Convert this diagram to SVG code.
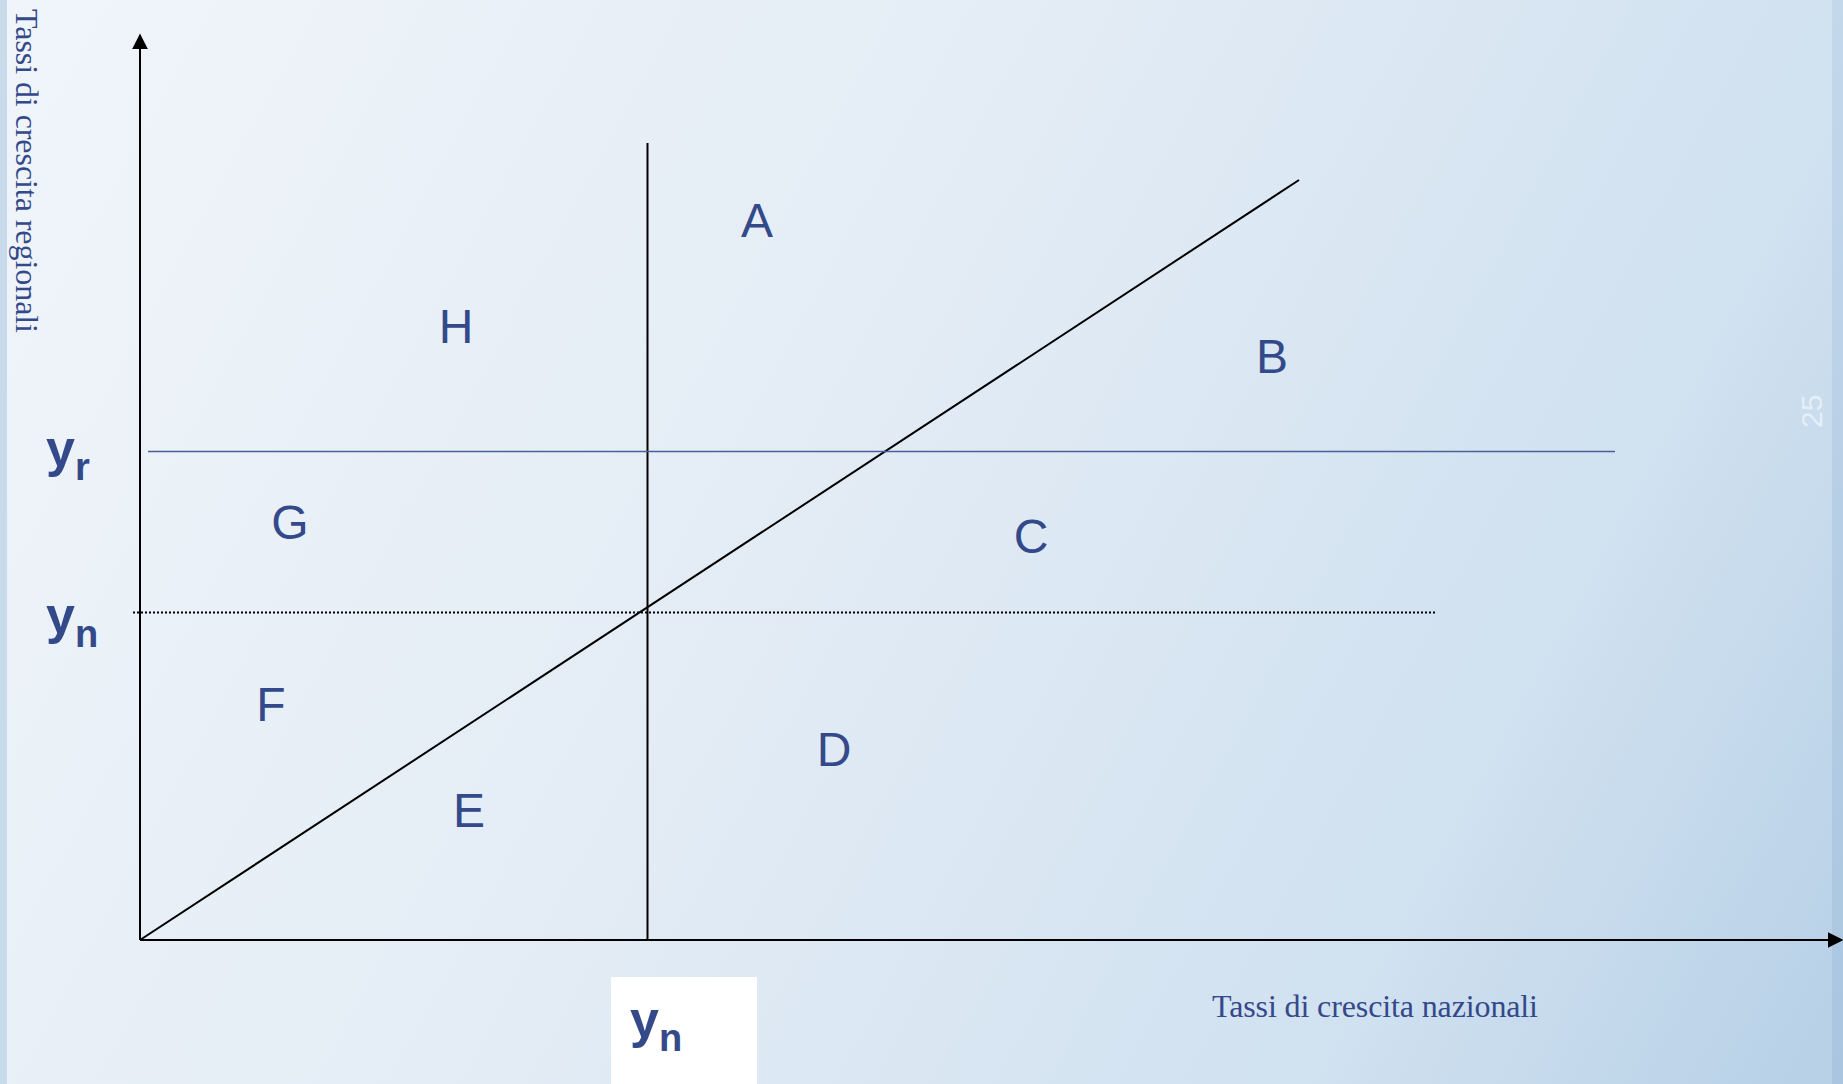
<svg xmlns="http://www.w3.org/2000/svg" width="1843" height="1084" viewBox="0 0 1843 1084">
<defs>
<linearGradient id="bg" gradientUnits="userSpaceOnUse" x1="0" y1="0" x2="1843" y2="1000">
<stop offset="0" stop-color="#f0f5fa"/>
<stop offset="0.45" stop-color="#e3ecf5"/>
<stop offset="0.8" stop-color="#d0e1f0"/>
<stop offset="1" stop-color="#b8d1e7"/>
</linearGradient>
<linearGradient id="rs" x1="0" y1="0" x2="0" y2="1">
<stop offset="0" stop-color="#c4d8ec"/>
<stop offset="1" stop-color="#a9c5df"/>
</linearGradient>
<marker id="arr" viewBox="0 0 10 10" refX="9" refY="5" markerWidth="8" markerHeight="8" markerUnits="strokeWidth" orient="auto">
<path d="M0,0 L10,5 L0,10 z" fill="#000"/>
</marker>
<style>
.lbl{font-family:"Liberation Sans",Arial,sans-serif;font-size:48px;fill:#34498a;text-anchor:middle}
.ax{font-family:"Liberation Serif","Times New Roman",serif;font-size:32px;fill:#34498a}
.yv{font-family:"Liberation Sans",Arial,sans-serif;font-weight:bold;fill:#34498a}
.ln{stroke:#000;stroke-width:2;fill:none}
</style>
</defs>
<rect width="1843" height="1084" fill="url(#bg)"/>
<rect x="0" y="0" width="7" height="1084" fill="#c8dbeb"/>
<rect x="1832" y="0" width="11" height="1084" fill="url(#rs)"/>
<rect x="611" y="977" width="146" height="107" fill="#ffffff"/>

<g id="connectors">
<line class="ln" x1="140" y1="940" x2="140" y2="35" marker-end="url(#arr)"/>
<line class="ln" x1="140" y1="940" x2="1842" y2="940" marker-end="url(#arr)"/>
<line class="ln" x1="647.5" y1="143" x2="647.5" y2="940"/>
<line class="ln" x1="140" y1="940" x2="1299" y2="180"/>
<line x1="148" y1="451.5" x2="1615" y2="451.5" stroke="#4a5f96" stroke-width="1.5"/>
<line x1="133" y1="612.5" x2="1435" y2="612.5" stroke="#000" stroke-width="2" stroke-dasharray="2,2"/>
</g>

<g id="node-A"><text class="lbl" x="757" y="237">A</text></g>
<g id="node-H"><text class="lbl" x="456" y="343">H</text></g>
<g id="node-B"><text class="lbl" x="1272" y="373">B</text></g>
<g id="node-G"><text class="lbl" x="290" y="539">G</text></g>
<g id="node-C"><text class="lbl" x="1031" y="553">C</text></g>
<g id="node-F"><text class="lbl" x="271" y="721">F</text></g>
<g id="node-D"><text class="lbl" x="834" y="766">D</text></g>
<g id="node-E"><text class="lbl" x="469" y="827">E</text></g>

<g id="label-yr"><text class="yv" x="46" y="466" font-size="52">y<tspan font-size="38" dy="14">r</tspan></text></g>
<g id="label-yn-left"><text class="yv" x="46" y="633" font-size="52">y<tspan font-size="38" dy="14">n</tspan></text></g>
<g id="label-yn-bottom"><text class="yv" x="630" y="1037" font-size="52">y<tspan font-size="38" dy="14">n</tspan></text></g>

<g id="label-x"><text class="ax" x="1212" y="1017" textLength="326">Tassi di crescita nazionali</text></g>
<g id="label-y"><text class="ax" transform="translate(16,9) rotate(90)" x="0" y="0" textLength="324">Tassi di crescita regionali</text></g>
<g id="page"><text transform="translate(1822,428) rotate(-90)" font-family="Liberation Sans,Arial,sans-serif" font-size="30" fill="#e6eef7">25</text></g>
</svg>
